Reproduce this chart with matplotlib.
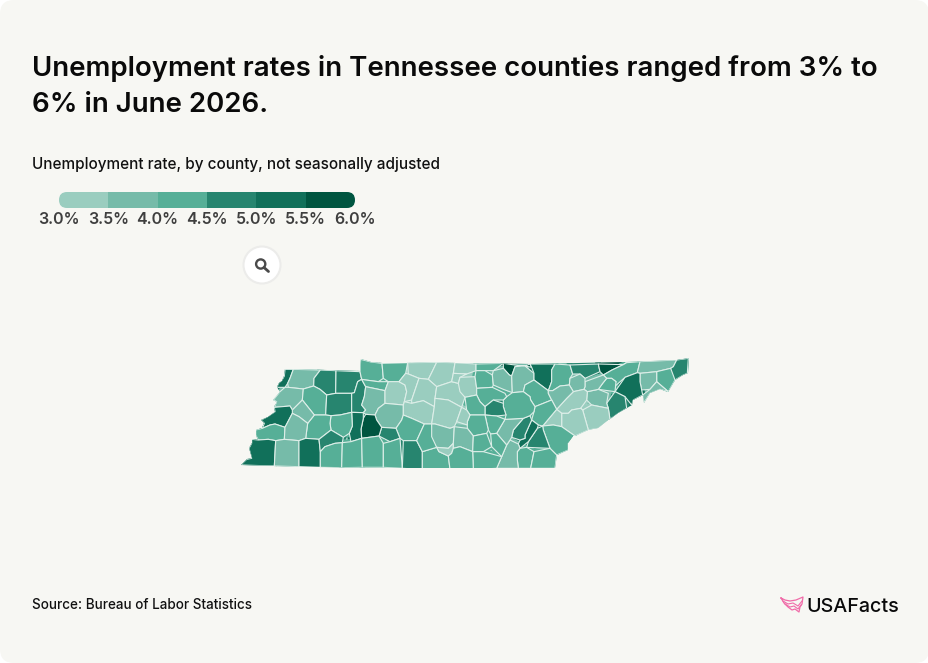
# Tennessee county unemployment map, county outlines
import matplotlib
matplotlib.use("Agg")
import matplotlib.pyplot as plt
import numpy as np
from matplotlib.patches import Circle, FancyBboxPatch, Polygon, Rectangle

plt.rcParams['font.family'] = ['Inter', 'DejaVu Sans']

TITLE_LINES = ["Unemployment rates in Tennessee counties ranged from 3% to", "6% in June 2026."]
SUBTITLE = "Unemployment rate, by county, not seasonally adjusted"
SOURCE = "Source: Bureau of Labor Statistics"

BREAKS = [3.0, 3.5, 4.0, 4.5, 5.0, 5.5, 6.0]
BREAK_LABELS = ["3.0%", "3.5%", "4.0%", "4.5%", "5.0%", "5.5%", "6.0%"]
BIN_COLORS = ["#9ACDBF", "#76BBA9", "#56AF97", "#27856F", "#11705A", "#005540"]
LINE_COLOR = "#DDEEE8"

# county outlines, in units of a 3x crop of the map. west crop starts at (235, 350)
WEST_SHAPES = {
    "Lake": [(150, 58), (175, 58), (165, 85), (158, 100), (150, 112), (125, 112), (132, 98), (140, 92), (148, 78)],
    "Obion": [(175, 58), (256, 60), (237, 85), (236, 108), (205, 117), (160, 112), (165, 85)],
    "Weakley": [(258, 60), (303, 62), (302, 130), (275, 135), (255, 118), (236, 108), (237, 85)],
    "Henry": [(303, 62), (375, 65), (380, 88), (368, 95), (358, 128), (302, 130)],
    "Stewart": [(377, 28), (408, 36), (441, 40), (445, 85), (430, 95), (392, 90), (380, 88), (375, 65)],
    "Montgomery": [(441, 40), (518, 38), (512, 70), (492, 95), (460, 95), (445, 85)],
    "Robertson": [(518, 38), (605, 37), (590, 68), (580, 88), (552, 85), (520, 72)],
    "Sumner": [(605, 37), (660, 38), (655, 70), (650, 95), (605, 110), (580, 88), (590, 68)],
    "Dyer": [(160, 112), (203, 118), (202, 150), (172, 180), (165, 168), (118, 172), (125, 155), (115, 150), (135, 125)],
    "Gibson": [(205, 118), (236, 108), (255, 118), (275, 135), (272, 195), (238, 195), (203, 155)],
    "Carroll": [(275, 135), (302, 130), (350, 130), (350, 187), (315, 195), (275, 195)],
    "Benton": [(368, 95), (380, 88), (392, 110), (388, 140), (380, 165), (392, 180), (385, 188), (350, 187), (350, 130), (358, 128)],
    "Houston": [(385, 92), (455, 97), (450, 122), (392, 112)],
    "Humphreys": [(392, 112), (450, 122), (450, 160), (430, 175), (420, 195), (392, 193), (380, 165), (388, 140)],
    "Dickson": [(460, 97), (492, 95), (510, 105), (515, 125), (508, 155), (505, 165), (452, 160), (452, 125)],
    "Cheatham": [(492, 95), (520, 72), (552, 85), (530, 150), (510, 152), (515, 125), (510, 105)],
    "Davidson": [(552, 85), (580, 88), (605, 110), (598, 170), (565, 152), (530, 160), (530, 150)],
    "Wilson": [(605, 110), (650, 95), (688, 120), (680, 172), (640, 150), (600, 145)],
    "Hickman": [(430, 175), (452, 160), (505, 165), (500, 210), (483, 235), (440, 232), (425, 210)],
    "Williamson": [(510, 155), (530, 160), (565, 152), (598, 170), (590, 222), (568, 222), (530, 205), (505, 195)],
    "Rutherford": [(600, 145), (640, 150), (680, 172), (665, 215), (645, 235), (600, 222), (590, 222)],
    "Maury": [(505, 195), (530, 205), (568, 222), (545, 272), (495, 265), (483, 235), (500, 210)],
    "Lewis": [(440, 238), (483, 235), (495, 265), (465, 275), (432, 258)],
    "Perry": [(390, 195), (420, 197), (435, 235), (430, 260), (380, 265), (378, 238), (385, 205)],
    "Decatur": [(355, 190), (385, 190), (378, 238), (380, 268), (348, 275), (343, 250), (352, 228)],
    "Henderson": [(288, 197), (350, 190), (352, 228), (343, 250), (325, 262), (288, 240), (285, 220)],
    "Madison": [(238, 195), (275, 198), (288, 197), (285, 240), (252, 268), (212, 265), (218, 220)],
    "Crockett": [(172, 183), (203, 155), (238, 195), (218, 218), (192, 200)],
    "Lauderdale": [(118, 172), (165, 168), (172, 183), (150, 232), (120, 222), (105, 225), (82, 235), (88, 220), (78, 210), (98, 200), (120, 185)],
    "Tipton": [(105, 225), (120, 222), (150, 235), (148, 268), (100, 268), (70, 270), (62, 255), (62, 240), (85, 235)],
    "Haywood": [(172, 190), (218, 218), (212, 268), (150, 268), (150, 232)],
    "Shelby": [(50, 268), (122, 272), (118, 348), (17, 345), (35, 328), (50, 325), (42, 295), (50, 280)],
    "Fayette": [(122, 272), (192, 272), (192, 350), (118, 348)],
    "Hardeman": [(195, 270), (250, 272), (256, 305), (256, 352), (192, 350)],
    "Chester": [(250, 270), (288, 240), (325, 262), (322, 278), (300, 280), (270, 290), (258, 305)],
    "McNairy": [(258, 308), (275, 288), (322, 280), (320, 353), (256, 352)],
    "Hardin": [(325, 278), (348, 275), (380, 272), (382, 352), (322, 353)],
    "Wayne": [(382, 268), (430, 262), (445, 280), (445, 352), (382, 352)],
    "Lawrence": [(448, 280), (500, 270), (502, 355), (447, 353)],
    "Giles": [(505, 272), (545, 272), (562, 305), (562, 358), (503, 355)],
    "Lincoln": [(565, 308), (605, 292), (640, 318), (645, 358), (563, 358)],
    "Marshall": [(570, 222), (590, 222), (600, 288), (562, 305), (545, 272)],
    "Bedford": [(592, 225), (645, 235), (658, 230), (655, 280), (640, 295), (605, 290), (590, 260)],
    "Moore": [(612, 292), (640, 298), (652, 285), (650, 310), (640, 322), (612, 305)],
}

# east crop starts at (460, 350)
EAST_SHAPES = {
    "Macon": [(-15, 40), (48, 42), (48, 62), (20, 72), (-20, 72)],
    "Trousdale": [(-20, 72), (20, 72), (0, 82), (-5, 100), (-25, 95)],
    "Smith": [(0, 82), (45, 80), (50, 135), (15, 142), (0, 125), (-5, 100)],
    "Clay": [(50, 42), (130, 40), (100, 62), (75, 62), (50, 58)],
    "Jackson": [(48, 62), (75, 62), (97, 75), (97, 112), (50, 115), (45, 80)],
    "Pickett": [(130, 40), (210, 42), (215, 52), (185, 48), (165, 50), (155, 78), (148, 75), (130, 55)],
    "Overton": [(100, 62), (130, 58), (148, 78), (155, 78), (157, 128), (130, 118), (100, 105)],
    "Fentress": [(165, 50), (195, 48), (222, 78), (222, 90), (195, 105), (190, 125), (158, 128), (155, 85)],
    "Scott": [(210, 45), (285, 42), (275, 60), (275, 95), (265, 122), (225, 90), (222, 70)],
    "Morgan": [(190, 128), (195, 105), (222, 90), (262, 125), (275, 150), (225, 170), (210, 140)],
    "Campbell": [(285, 42), (330, 45), (338, 72), (330, 85), (328, 105), (300, 108), (278, 122), (268, 122), (275, 95), (275, 60)],
    "Claiborne": [(332, 42), (415, 42), (420, 65), (375, 85), (360, 72), (338, 72)],
    "Hancock": [(415, 42), (500, 38), (490, 44), (456, 60), (430, 75), (420, 65)],
    "Hawkins": [(500, 40), (540, 35), (532, 68), (495, 82), (458, 115), (468, 95), (455, 85), (430, 78), (456, 62)],
    "Sullivan": [(542, 35), (650, 30), (632, 55), (590, 65), (535, 68)],
    "Johnson": [(655, 28), (685, 25), (682, 70), (670, 75), (645, 90), (630, 72), (640, 50)],
    "Carter": [(590, 65), (632, 55), (645, 90), (625, 125), (590, 95)],
    "Washington": [(540, 70), (585, 62), (590, 100), (570, 118), (545, 120), (540, 95)],
    "Unicoi": [(590, 98), (622, 125), (600, 118), (570, 130), (552, 158), (548, 135), (570, 118)],
    "Greene": [(535, 72), (540, 125), (548, 135), (520, 150), (515, 165), (495, 140), (465, 125), (495, 85)],
    "Cocke": [(460, 125), (495, 145), (500, 175), (475, 190), (450, 208), (440, 160)],
    "Hamblen": [(458, 90), (470, 95), (462, 125), (415, 118), (428, 100)],
    "Jefferson": [(382, 125), (415, 120), (445, 130), (445, 175), (395, 165), (380, 150)],
    "Grainger": [(375, 95), (430, 78), (440, 85), (428, 100), (410, 118), (380, 125), (375, 110)],
    "Union": [(330, 85), (360, 72), (375, 85), (372, 118), (340, 125), (328, 108)],
    "Knox": [(340, 125), (378, 125), (380, 150), (362, 175), (335, 180), (325, 190), (290, 178), (290, 175), (320, 145)],
    "Anderson": [(300, 108), (328, 105), (340, 122), (290, 172), (278, 155), (265, 130)],
    "Sevier": [(362, 172), (395, 165), (445, 178), (445, 210), (415, 235), (385, 240), (368, 180)],
    "Blount": [(305, 190), (330, 180), (365, 180), (385, 240), (345, 258), (305, 230)],
    "Loudon": [(285, 182), (305, 190), (305, 235), (280, 225), (248, 228)],
    "Roane": [(275, 150), (285, 180), (248, 225), (215, 210), (222, 170)],
    "Monroe": [(250, 228), (305, 235), (340, 258), (325, 280), (325, 300), (290, 315), (270, 295), (250, 240)],
    "McMinn": [(232, 235), (250, 230), (270, 295), (200, 292)],
    "Meigs": [(215, 215), (235, 225), (205, 275), (180, 295), (175, 282), (195, 265)],
    "Rhea": [(190, 205), (210, 197), (218, 215), (195, 255), (180, 270), (155, 262), (160, 240)],
    "Bradley": [(172, 305), (200, 293), (222, 305), (212, 355), (175, 355), (172, 330)],
    "Polk": [(225, 305), (270, 298), (290, 315), (285, 355), (215, 355)],
    "Hamilton": [(150, 270), (175, 285), (170, 300), (172, 355), (110, 355), (125, 320)],
    "Bledsoe": [(135, 208), (185, 205), (155, 240), (155, 265), (140, 285), (110, 250)],
    "Cumberland": [(140, 140), (190, 128), (212, 150), (222, 185), (190, 203), (135, 208), (130, 170)],
    "Putnam": [(52, 118), (97, 115), (135, 130), (130, 150), (100, 150), (75, 170), (60, 155)],
    "White": [(75, 170), (100, 148), (130, 160), (138, 195), (110, 198), (75, 195)],
    "DeKalb": [(15, 142), (50, 138), (72, 165), (72, 192), (30, 195), (20, 180)],
    "Van Buren": [(80, 200), (135, 205), (110, 245), (92, 252), (85, 240)],
    "Warren": [(30, 195), (75, 195), (82, 240), (80, 250), (40, 258), (22, 235), (22, 215)],
    "Cannon": [(5, 172), (20, 180), (30, 195), (22, 225), (-10, 222)],
    "Coffee": [(-17, 230), (22, 228), (40, 258), (38, 305), (0, 290), (-20, 295)],
    "Grundy": [(40, 258), (82, 252), (95, 290), (70, 305), (40, 310)],
    "Sequatchie": [(92, 255), (110, 250), (140, 288), (118, 320), (95, 290)],
    "Marion": [(40, 310), (70, 305), (118, 322), (108, 355), (40, 358)],
    "Franklin": [(-20, 298), (0, 292), (38, 310), (38, 358), (-30, 358), (-30, 322)],
}

# outer border of the state, same picture
STATE_X = [285, 293, 360, 361, 371, 382, 407, 436, 455, 530, 626, 677, 689, 688, 683, 675, 668, 660, 650,
           644, 643, 633, 632, 627, 618, 610, 608, 598, 588, 575, 573, 568, 568, 557, 555, 403, 320, 299,
           274, 241, 247, 252, 249, 252, 252, 258, 256, 256, 262, 264, 261, 268, 275, 274, 277, 273, 280,
           277, 279, 282, 284]
STATE_Y = [369, 369, 371, 359, 362, 363, 363, 362, 363, 364, 362, 360, 358, 373, 375, 380, 392, 389, 393,
           403, 395, 400, 405, 408, 413, 419, 420, 428, 430, 436, 436, 443, 450, 455, 468, 468, 467, 467,
           466, 465, 459, 458, 448, 443, 439, 440, 435, 430, 428, 423, 420, 417, 412, 407, 402, 400, 392,
           387, 383, 381, 376]

COUNTY_RATES = {
    "Lake": 5.2, "Obion": 3.8, "Weakley": 4.8, "Henry": 4.8, "Stewart": 4.2, "Montgomery": 4.2,
    "Robertson": 3.2, "Sumner": 3.2, "Dyer": 3.8, "Gibson": 4.2, "Carroll": 4.7, "Benton": 4.8,
    "Houston": 4.2, "Humphreys": 3.8, "Dickson": 3.4, "Cheatham": 3.3, "Davidson": 3.3, "Wilson": 3.2,
    "Hickman": 3.8, "Williamson": 3.1, "Rutherford": 3.3, "Maury": 4.1, "Lewis": 4.8, "Perry": 5.8,
    "Decatur": 5.2, "Henderson": 4.1, "Madison": 4.1, "Crockett": 3.9, "Lauderdale": 5.3, "Tipton": 4.2,
    "Haywood": 3.8, "Shelby": 5.3, "Fayette": 3.7, "Hardeman": 5.3, "Chester": 4.7, "McNairy": 4.2,
    "Hardin": 4.2, "Wayne": 4.2, "Lawrence": 4.2, "Giles": 4.7, "Lincoln": 4.2, "Marshall": 4.2,
    "Bedford": 3.7, "Moore": 3.3,
    "Macon": 3.3, "Trousdale": 3.4, "Smith": 3.4, "Clay": 4.2, "Jackson": 4.2, "Pickett": 5.7,
    "Overton": 3.8, "Fentress": 3.8, "Scott": 5.3, "Morgan": 4.2, "Campbell": 4.2, "Claiborne": 4.8,
    "Hancock": 5.7, "Hawkins": 4.2, "Sullivan": 3.8, "Johnson": 4.8, "Carter": 4.2, "Washington": 3.8,
    "Unicoi": 3.8, "Greene": 5.3, "Cocke": 4.8, "Hamblen": 4.2, "Jefferson": 3.8, "Grainger": 3.8,
    "Union": 3.8, "Knox": 3.2, "Anderson": 3.8, "Sevier": 3.2, "Blount": 3.2, "Loudon": 3.4,
    "Roane": 4.2, "Monroe": 4.2, "McMinn": 4.8, "Meigs": 5.2, "Rhea": 4.8, "Bradley": 4.2,
    "Polk": 4.2, "Hamilton": 3.8, "Bledsoe": 3.8, "Cumberland": 4.2, "Putnam": 4.2, "White": 4.8,
    "DeKalb": 4.2, "Van Buren": 4.2, "Warren": 4.2, "Cannon": 3.4, "Coffee": 3.7, "Grundy": 4.2,
    "Sequatchie": 4.2, "Marion": 4.2, "Franklin": 4.2,
}


def bin_color(rate):
    for low, high, color in zip(BREAKS[:-1], BREAKS[1:], BIN_COLORS):
        if low <= rate < high:
            return color
    return BIN_COLORS[-1]


def to_page(shapes, x0, y0):
    return {name: [(x0 + px / 3, y0 + py / 3) for px, py in pts] for name, pts in shapes.items()}


def snap_shapes(shapes, tol=2.5):
    # the outlines were traced one by one, so pull neighbouring corners and edges together
    anchors = []
    snapped = {}
    for name, pts in shapes.items():
        new_pts = []
        for p in pts:
            p = np.array(p)
            for a in anchors:
                if np.hypot(*(a - p)) < tol:
                    p = a
                    break
            else:
                anchors.append(p)
            new_pts.append(p)
        snapped[name] = new_pts

    result = {}
    for name, pts in snapped.items():
        out = []
        for a, b in zip(pts, pts[1:] + pts[:1]):
            out.append(a)
            seg = b - a
            length = np.hypot(*seg)
            if length == 0:
                continue
            on_edge = []
            for v in anchors:
                t = np.dot(v - a, seg) / length ** 2
                dist = np.hypot(*(a + t * seg - v))
                if 0.05 < t < 0.95 and dist < tol:
                    on_edge.append((t, v))
            out.extend(v for t, v in sorted(on_edge, key=lambda item: item[0]))
        result[name] = out
    return result


fig = plt.figure(figsize=(9.29, 6.63), dpi=100, facecolor="white")
ax = fig.add_axes([0, 0, 1, 1])
ax.set_xlim(0, 929)
ax.set_ylim(663, 0)
ax.axis("off")

ax.add_patch(FancyBboxPatch((0, 0), 929, 663, boxstyle="round,pad=0,rounding_size=14",
                            facecolor="#F7F7F3", edgecolor="none"))

for y, line in zip([76, 112], TITLE_LINES):
    ax.text(32, y, line, fontsize=19.88, fontweight="semibold", color="#0A0A0A", va="baseline")
ax.text(32, 169, SUBTITLE, fontsize=11.0, fontweight="medium", color="#111111", va="baseline")

# legend bar, rounded at both ends
bar_left, bar_right, bar_top, bar_h = 59, 355, 192, 16
bar_clip = FancyBboxPatch((bar_left, bar_top), bar_right - bar_left, bar_h,
                          boxstyle="round,pad=0,rounding_size=8", facecolor="none", edgecolor="none")
ax.add_patch(bar_clip)
seg_w = (bar_right - bar_left) / len(BIN_COLORS)
for i, color in enumerate(BIN_COLORS):
    seg = Rectangle((bar_left + i * seg_w, bar_top), seg_w, bar_h, facecolor=color, edgecolor="none")
    ax.add_patch(seg)
    seg.set_clip_path(bar_clip)
for i, label in enumerate(BREAK_LABELS):
    ax.text(bar_left + i * seg_w, 224, label, fontsize=11.5, fontweight="semibold", color="#3F3F3F",
            ha="center", va="baseline")

# zoom button
ax.add_patch(Circle((262, 265), 18.5, facecolor="white", edgecolor="#ECECEA", linewidth=1.5))
ax.add_patch(Circle((260.7, 264), 4.6, facecolor="none", edgecolor="#4A4A4A", linewidth=1.7))
ax.plot([264, 268.5], [267.5, 271.5], color="#4A4A4A", linewidth=2, solid_capstyle="round")

counties = to_page(WEST_SHAPES, 235, 350) | to_page(EAST_SHAPES, 460, 350)
counties = snap_shapes(counties)
state = Polygon(list(zip(STATE_X, STATE_Y)), closed=True, facecolor=LINE_COLOR, edgecolor="none")
ax.add_patch(state)

# fat same-colour edge first, it closes the slivers left between traced outlines
for name, pts in counties.items():
    color = bin_color(COUNTY_RATES[name])
    under = Polygon(pts, closed=True, facecolor=color, edgecolor=color, linewidth=4)
    ax.add_patch(under)
    under.set_clip_path(state)
for name, pts in counties.items():
    top = Polygon(pts, closed=True, facecolor=bin_color(COUNTY_RATES[name]), edgecolor=LINE_COLOR,
                  linewidth=0.8, joinstyle="round")
    ax.add_patch(top)
    top.set_clip_path(state)

ax.text(32, 609, SOURCE, fontsize=9.7, fontweight="medium", color="#111111", va="baseline")

# logo: outline of the country with a couple of stripes
logo_x = [781, 785, 790, 796, 803, 802, 800, 799, 795, 792, 788, 784, 781]
logo_y = [598, 600, 601, 600, 597, 604, 607, 612, 609, 610, 607, 603, 598]
ax.plot(logo_x, logo_y, color="#F06BA8", linewidth=0.9)
ax.plot([783, 788, 793, 798, 802], [601, 604, 603, 606, 601], color="#F06BA8", linewidth=0.8)
ax.plot([785, 790, 794, 798, 801], [604, 607, 606, 609, 605], color="#F06BA8", linewidth=0.8)
ax.text(806, 612, "USAFacts", fontsize=14.2, fontweight="medium", color="#0A0A0A", va="baseline")

fig.savefig("out.png", dpi=100, facecolor=fig.get_facecolor())
